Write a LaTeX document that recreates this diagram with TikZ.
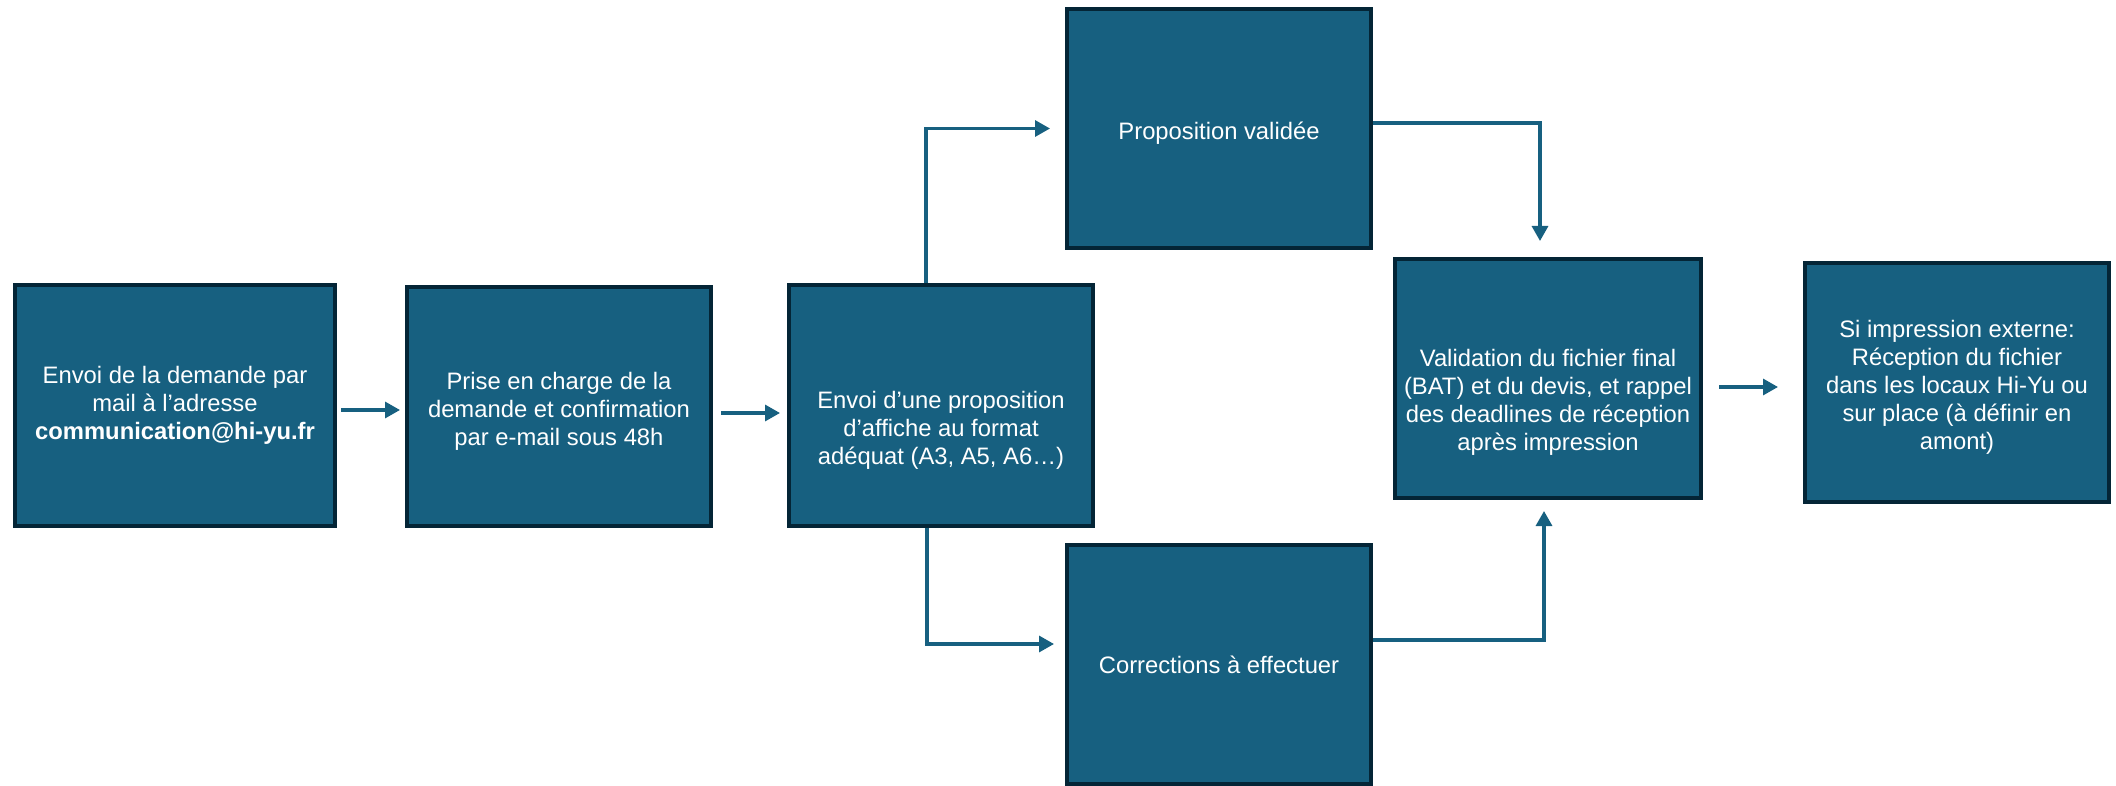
\documentclass[tikz,border=0pt]{standalone}
\usepackage{fontspec}
\setmainfont{Liberation Sans}
\usetikzlibrary{arrows.meta}
\definecolor{boxfill}{RGB}{23,96,128}
\definecolor{boxline}{RGB}{4,37,54}
% text lines of a box, lowered by the optional amount
\newcommand{\boxtext}[2][0pt]{\raisebox{-#1}[\height][\depth]{\begin{tabular}{@{}c@{}}#2\end{tabular}}}

\begin{document}
\begin{tikzpicture}[x=0.5pt, y=-0.5pt,
  main/.style = {draw=boxline, line width=2pt, fill=boxfill, text=white,
    minimum width=152pt, minimum height=120pt, inner sep=0pt,
    font=\fontsize{11.9}{14}\selectfont},
  link/.style = {draw=boxfill, line width=1.6pt, -{Triangle[length=7.5pt, width=8pt]}}]
\useasboundingbox (0,0) rectangle (2116,786);
\node[main, minimum width=160pt, minimum height=120.5pt] (1) at (175,405.5) {\boxtext{Envoi de la demande par\\mail à l’adresse\\\textbf{communication@hi-yu.fr}}};
\node[main, minimum height=119.5pt] (2) at (559,406.5) {\boxtext[2.5pt]{Prise en charge de la\\demande et confirmation\\par e-mail sous 48h}};
\node[main, minimum height=120.5pt] (3) at (941,405.5) {\boxtext[12.5pt]{Envoi d’une proposition\\d’affiche au format\\adéquat (A3, A5, A6…)}};
\node[main, minimum height=119.5pt] (4) at (1219,128.5) {\boxtext[2.5pt]{Proposition validée}};
\node[main, minimum height=119.5pt] (5) at (1219,664.5) {\boxtext[1.5pt]{Corrections à effectuer}};
\node[main, minimum width=153pt, minimum height=119.5pt] (6) at (1548,378.5) {\boxtext[12pt]{Validation du fichier final\\(BAT) et du devis, et rappel\\des deadlines de réception\\après impression}};
\node[main, minimum height=119.5pt] (7) at (1957,382.5) {\boxtext[2.5pt]{Si impression externe:\\Réception du fichier\\dans les locaux Hi-Yu ou\\sur place (à définir en\\amont)}};
\draw[link, shorten <=2pt, shorten >=2.5pt] ([yshift=-2.25pt]1.east) -- ([yshift=-2.25pt]1.east -| 2.west);
\draw[link, shorten <=4pt, shorten >=3.5pt] ([yshift=-3.25pt]2.east) -- ([yshift=-3.25pt]2.east -| 3.west);
\draw[link, shorten >=7.5pt] ([xshift=-7.5pt]3.north) |- (4.west);
\draw[link, shorten >=5.5pt] ([xshift=-7pt]3.south) |- ([yshift=10.25pt]5.west);
\draw[link, shorten >=8pt] ([yshift=2.75pt]4.east) -| ([xshift=-4pt]6.north);
\draw[link, shorten >=5.5pt] ([yshift=12.25pt]5.east) -| ([xshift=-2pt]6.south);
\draw[link, shorten <=8pt, shorten >=12.5pt] ([yshift=-4.25pt]6.east) -- ([yshift=-4.25pt]6.east -| 7.west);
\end{tikzpicture}
\end{document}
